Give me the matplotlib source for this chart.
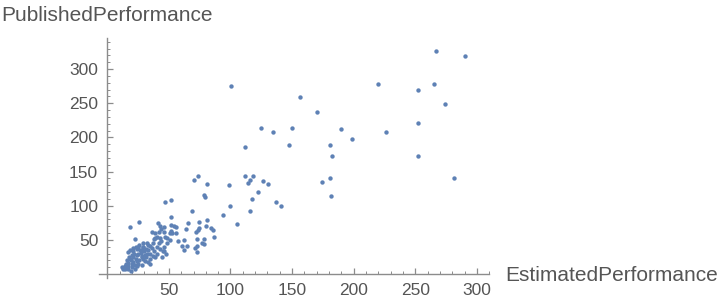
import matplotlib
matplotlib.use('Agg')
import matplotlib.pyplot as plt
from matplotlib.ticker import MultipleLocator

# estimated vs published performance
estimated = [
    # upper part
    100.4, 111.8, 124.9, 134.7, 147.8, 150.2, 156.0, 169.9, 180.5, 182.1, 189.5,
    198.4, 219.7, 226.2, 252.4, 252.4, 252.4, 265.4, 267.1, 274.4, 290.0,
    # middle band
    99.0, 111.8, 118.4, 115.9, 114.3, 126.6, 130.6, 122.5, 117.6, 99.6, 115.9,
    137.2, 141.3, 105.3, 173.9, 180.5, 181.3, 281.0,
    # 45..100
    70.4, 73.4, 80.8, 46.7, 51.6, 78.3, 79.2, 68.5, 51.4, 93.9, 80.8, 65.3,
    74.3, 80.5, 51.9, 54.1, 55.5, 63.9, 74.5, 73.4, 84.1, 86.2, 72.3, 51.4,
    52.7, 50.8, 55.5, 45.9, 45.9, 86.8, 48.1, 50.6, 72.6, 78.6, 57.4, 62.3,
    48.1, 76.7, 78.6, 60.4, 65.0, 72.6, 71.0, 62.3, 72.6, 45.9,
    # upper edge of the dense cluster
    18.4, 26.0, 41.5, 42.4, 43.7, 36.1, 38.8, 41.6, 40.2, 42.9, 38.3, 47.0, 22.5,
    # dense cluster
    28.8, 26.0, 23.3, 29.3, 33.4, 34.7, 18.4, 16.5, 21.2, 24.4, 26.6, 31.5,
    33.4, 38.0, 42.9, 44.3, 38.8, 34.7, 34.7, 30.6, 27.9, 23.9, 21.2, 18.4,
    15.7, 17.1, 21.2, 24.4, 22.5, 19.8, 15.7, 13.0, 14.3, 17.1, 22.5, 25.2,
    27.9, 31.5, 32.0, 40.2, 44.9,
    20.0, 22.0, 25.0, 27.0, 28.0, 30.0, 19.0, 23.0, 26.0, 29.0, 17.0, 20.0,
    24.0, 15.0, 18.0, 25.0, 28.0, 31.0, 35.0, 36.0, 29.0, 32.0, 37.0, 16.0,
    19.0, 12.0, 14.0, 21.0, 33.0, 37.0, 40.0, 42.0, 39.0, 44.0, 46.0, 48.0,
]
published = [
    275.7, 186.4, 214.2, 208.3, 189.3, 214.2, 259.6, 237.6, 189.3, 173.2, 212.7,
    198.1, 278.3, 208.3, 269.8, 221.5, 173.2, 278.3, 326.9, 249.3, 319.6,
    130.8, 143.9, 143.9, 138.1, 133.7, 136.6, 132.2, 120.5, 110.2, 100.0, 92.7,
    105.9, 100.0, 73.6, 135.1, 141.0, 114.6, 141.0,
    138.1, 143.5, 132.2, 105.9, 108.8, 115.7, 112.7, 92.7, 83.9, 86.8, 79.5, 75.1,
    76.6, 70.7, 72.2, 70.7, 69.3, 66.3, 66.9, 64.0, 66.9, 64.4, 61.0, 63.4,
    60.0, 60.0, 60.5, 69.3, 61.0, 54.6, 53.2, 49.8, 51.7, 51.7, 48.8, 50.2,
    45.4, 45.4, 43.9, 41.5, 41.5, 41.5, 38.5, 35.6, 32.6, 34.1,
    68.8, 76.0, 75.0, 70.3, 65.4, 61.5, 60.5, 61.5, 54.2, 52.7, 51.7, 54.2, 50.8,
    45.9, 42.0, 39.5, 39.5, 42.9, 41.0, 34.7, 32.2, 33.2, 36.1, 34.7, 37.1,
    34.7, 33.2, 36.1, 24.9, 24.9, 21.5, 15.1, 18.5, 24.9, 27.3, 24.9, 22.4,
    20.0, 16.6, 17.6, 18.5, 12.7, 10.2, 10.2, 7.8, 7.8, 7.8, 7.8, 15.1,
    13.7, 24.9, 29.8, 29.8, 33.2,
    28.0, 30.0, 29.0, 31.0, 27.0, 33.0, 20.0, 22.0, 20.0, 22.0, 12.0, 15.0,
    12.0, 14.0, 25.0, 40.0, 35.0, 28.0, 30.0, 38.0, 40.0, 45.0, 45.0, 9.0,
    5.0, 10.0, 12.0, 38.0, 18.0, 27.0, 40.0, 45.0, 52.0, 48.0, 40.0, 30.0,
]

plt.rcParams['font.family'] = ['Liberation Sans', 'DejaVu Sans']

fig = plt.figure(figsize=(7.2, 3.06), dpi=100, facecolor='white')
ax = fig.add_axes([99 / 720, 1 - 278.3 / 306, (489.3 - 99) / 720, (278.3 - 38) / 306])

ax.scatter(estimated, published, s=10, c='#5E81B5', linewidths=0, zorder=3)

ax.set_xlim(-6.7, 310)
ax.set_ylim(-6.3, 345.5)

for side in ['top', 'right']:
    ax.spines[side].set_visible(False)
for side in ['left', 'bottom']:
    ax.spines[side].set_position(('data', 0))
    ax.spines[side].set_color('#8c8c8c')
    ax.spines[side].set_linewidth(1.0)

ax.xaxis.set_minor_locator(MultipleLocator(10))
ax.yaxis.set_minor_locator(MultipleLocator(10))
ax.set_xticks([50, 100, 150, 200, 250, 300])
ax.set_yticks([50, 100, 150, 200, 250, 300])
ax.tick_params(which='both', direction='in', color='#8c8c8c', labelcolor='#555555',
               labelsize=12.5)
ax.tick_params(which='major', length=4, width=0.9)
ax.tick_params(which='minor', length=2.2, width=0.7)
ax.tick_params(axis='x', pad=6.5)
ax.tick_params(axis='y', pad=6.5)

fig.text(1 / 720, 1 - 20.7 / 306, 'PublishedPerformance', ha='left', va='baseline',
         fontsize=15, color='#555555')
fig.text(505 / 720, 1 - 281 / 306, 'EstimatedPerformance', ha='left', va='baseline',
         fontsize=15, color='#555555')

fig.savefig('out.png', dpi=100, facecolor='white')
